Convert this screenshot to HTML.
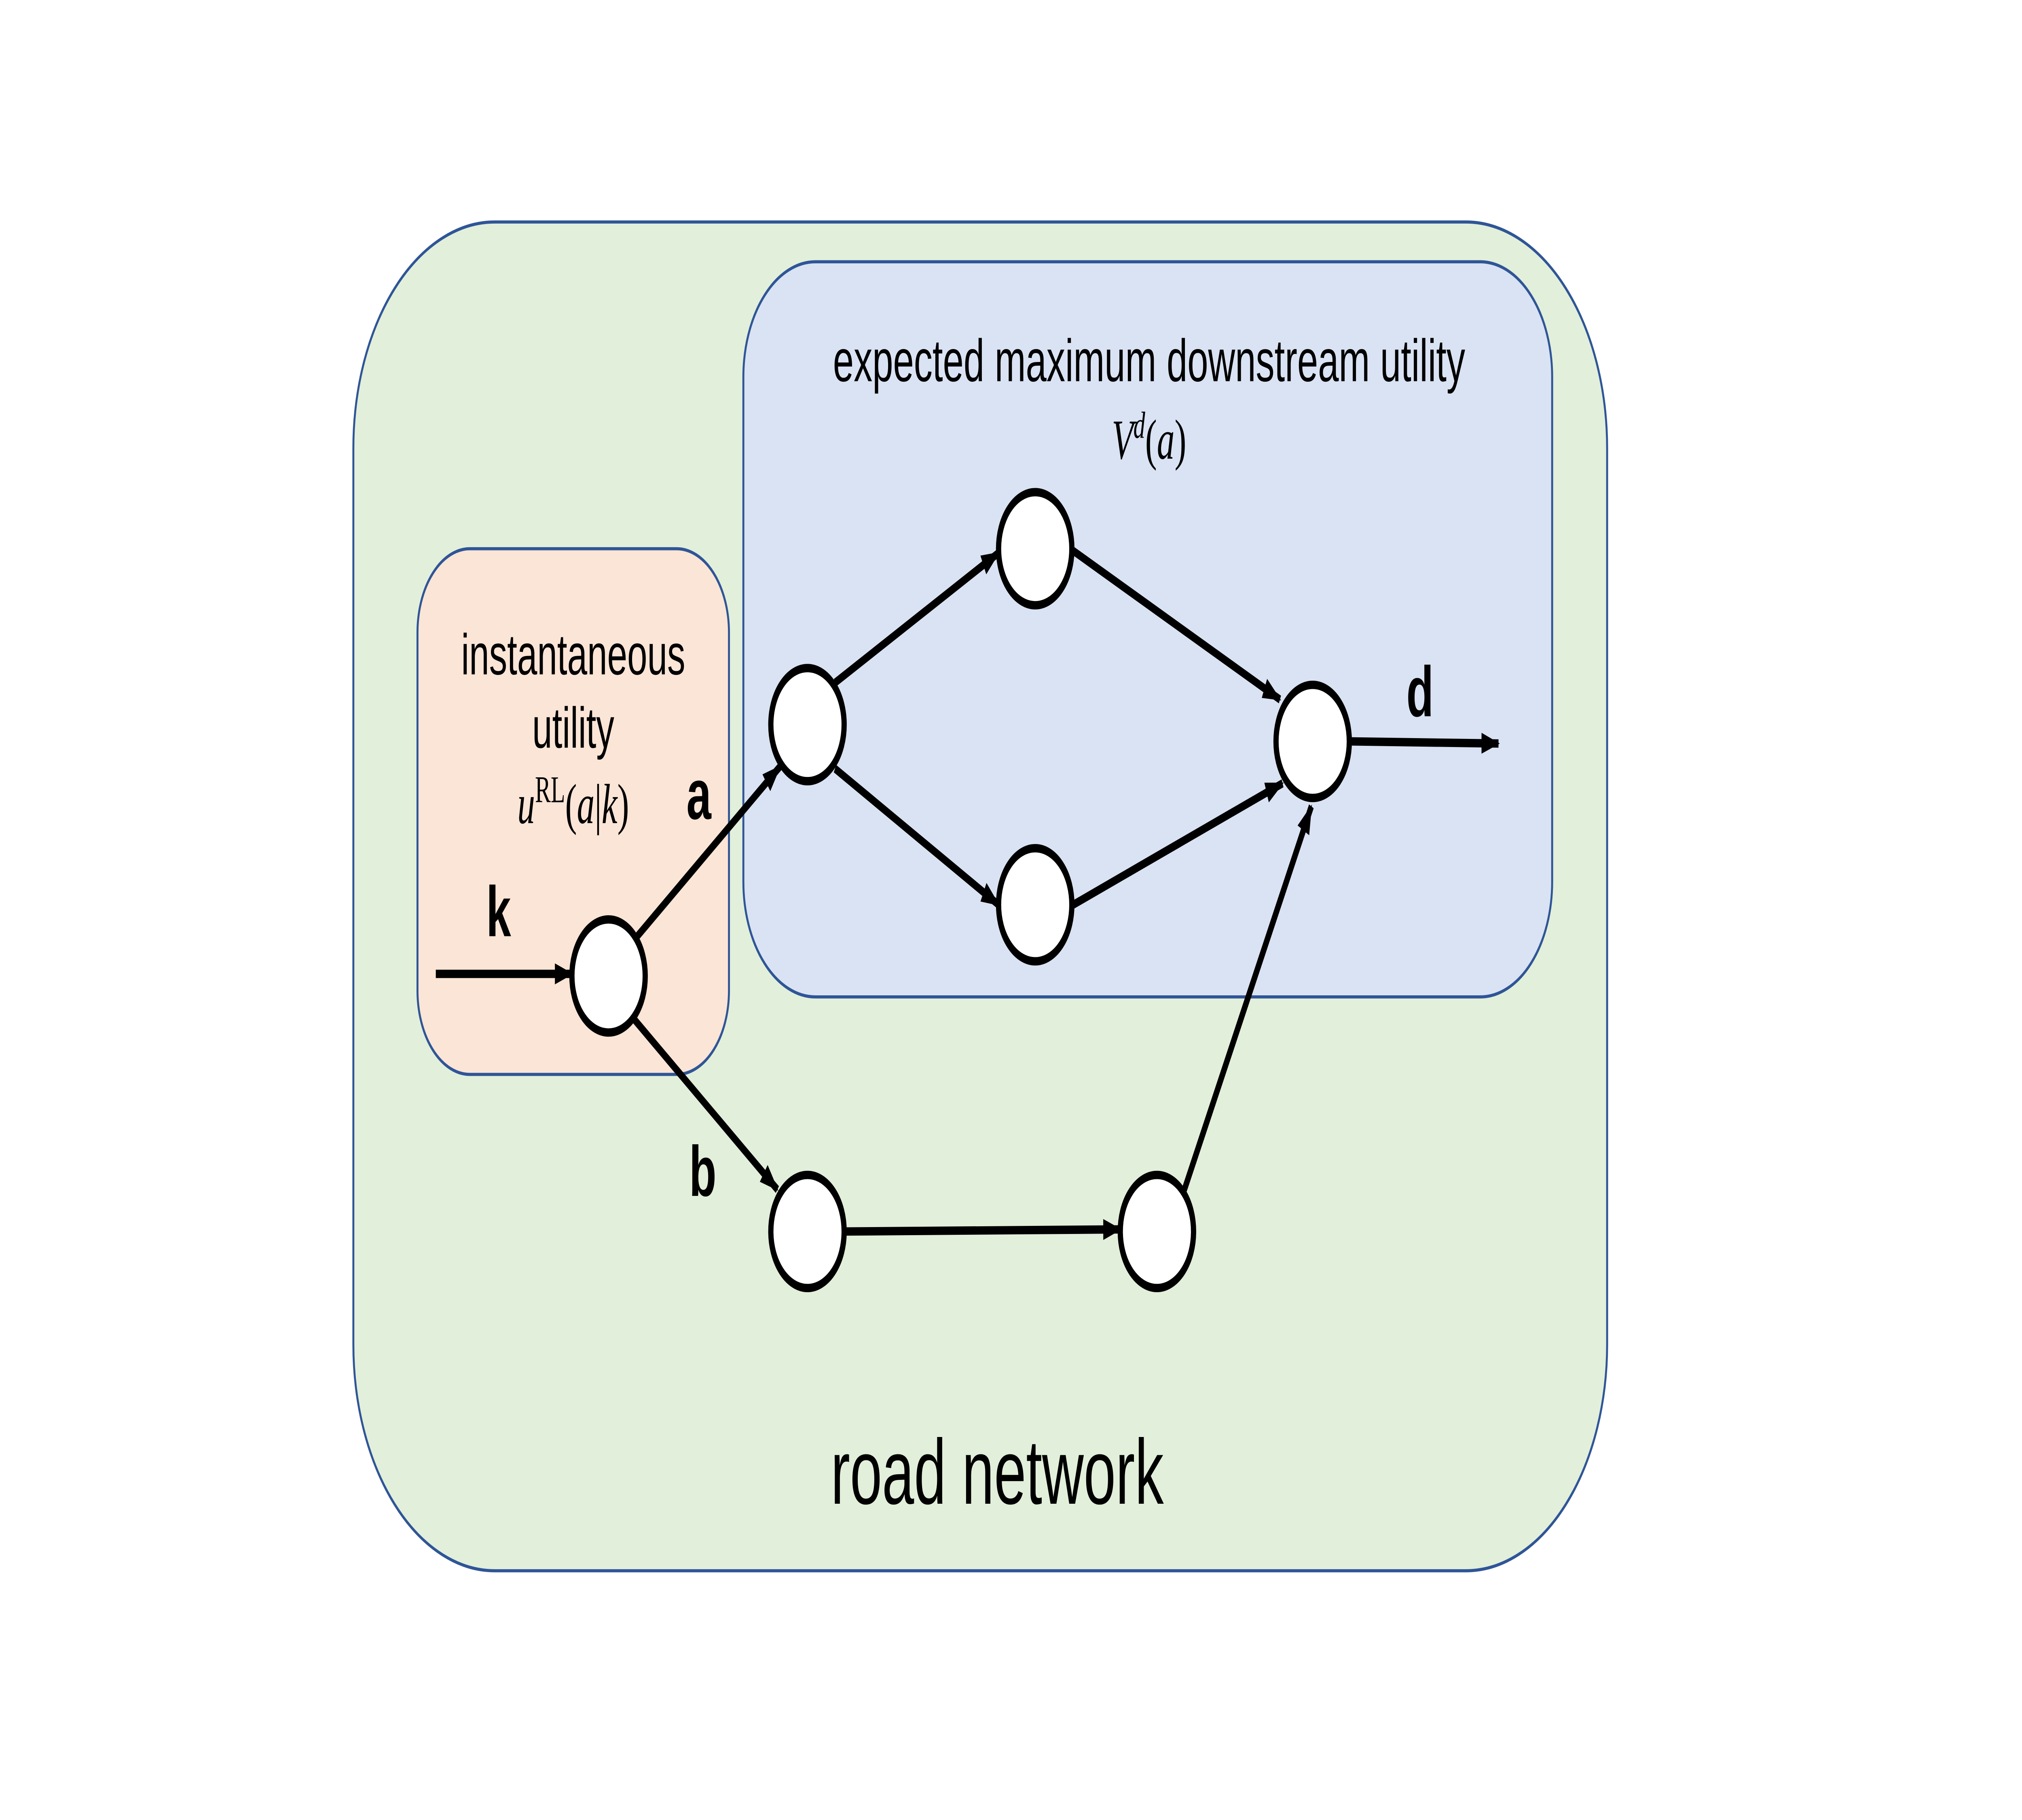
<!DOCTYPE html>
<html><head><meta charset="utf-8"><style>html,body{margin:0;padding:0;background:#fff;overflow:hidden;width:100%;height:100%}svg{display:block;width:100vw;height:100vh}</style></head>
<body>
<svg viewBox="0 0 1545 869" preserveAspectRatio="none" xmlns="http://www.w3.org/2000/svg">
<defs><marker id="ar" markerWidth="14" markerHeight="10" refX="13" refY="5" orient="auto" markerUnits="userSpaceOnUse"><path d="M0,0 L14,5 L0,10 z" fill="#000"/></marker></defs>
<rect width="1545" height="869" fill="#fff"/>
<rect x="270" y="106" width="958" height="644" rx="108" fill="#e2efda" stroke="#2f5597" stroke-width="1.5"/>
<rect x="568" y="125" width="618" height="351" rx="55" fill="#dae3f3" stroke="#2f5597" stroke-width="1.5"/>
<rect x="319" y="262" width="238" height="251" rx="40" fill="#fbe5d6" stroke="#2f5597" stroke-width="1.5"/>
<g stroke="#000" stroke-width="4" fill="none" marker-end="url(#ar)">
<line x1="333" y1="465" x2="437" y2="465"/>
<line x1="487" y1="447" x2="596" y2="366"/>
<line x1="638" y1="326" x2="763" y2="264"/>
<line x1="638" y1="367" x2="763" y2="432"/>
<line x1="820" y1="263" x2="978" y2="334"/>
<line x1="820" y1="432" x2="980" y2="374"/>
<line x1="905" y1="568" x2="1002" y2="385"/>
<line x1="485" y1="487" x2="594" y2="568"/>
<line x1="646" y1="588" x2="856" y2="587"/>
<line x1="1032" y1="354" x2="1145" y2="355"/>
</g>
<g fill="#fff" stroke="#000" stroke-width="4">
<ellipse cx="465" cy="466" rx="28" ry="27"/>
<ellipse cx="617" cy="346" rx="28" ry="27"/>
<ellipse cx="791" cy="262" rx="28" ry="27"/>
<ellipse cx="791" cy="432" rx="28" ry="27"/>
<ellipse cx="1003" cy="354" rx="28" ry="27"/>
<ellipse cx="617" cy="588" rx="28" ry="27"/>
<ellipse cx="884" cy="588" rx="28" ry="27"/>
</g>
<g font-family="Liberation Sans, sans-serif" font-weight="bold" font-size="34" text-anchor="middle">
<text x="381" y="447">k</text><text x="534" y="391">a</text><text x="537" y="571">b</text><text x="1085" y="342">d</text>
</g>
<g font-family="Liberation Sans, sans-serif" font-size="27.5" text-anchor="middle">
<text x="438" y="322">instantaneous</text><text x="438" y="357">utility</text>
<text x="878" y="182" font-size="28.5">expected maximum downstream utility</text>
<text x="762" y="718" font-size="44">road network</text>
</g>
<g font-family="Liberation Serif, serif" font-size="27" text-anchor="middle">
<text x="438" y="393"><tspan font-style="italic">u</tspan><tspan font-size="18" dy="-10">RL</tspan><tspan dy="10">(</tspan><tspan font-style="italic">a</tspan>|<tspan font-style="italic">k</tspan>)</text>
<text x="878" y="219"><tspan font-style="italic">V</tspan><tspan font-size="18" dy="-10" font-style="italic">d</tspan><tspan dy="10">(</tspan><tspan font-style="italic">a</tspan>)</text>
</g>
</svg>
</body></html>
